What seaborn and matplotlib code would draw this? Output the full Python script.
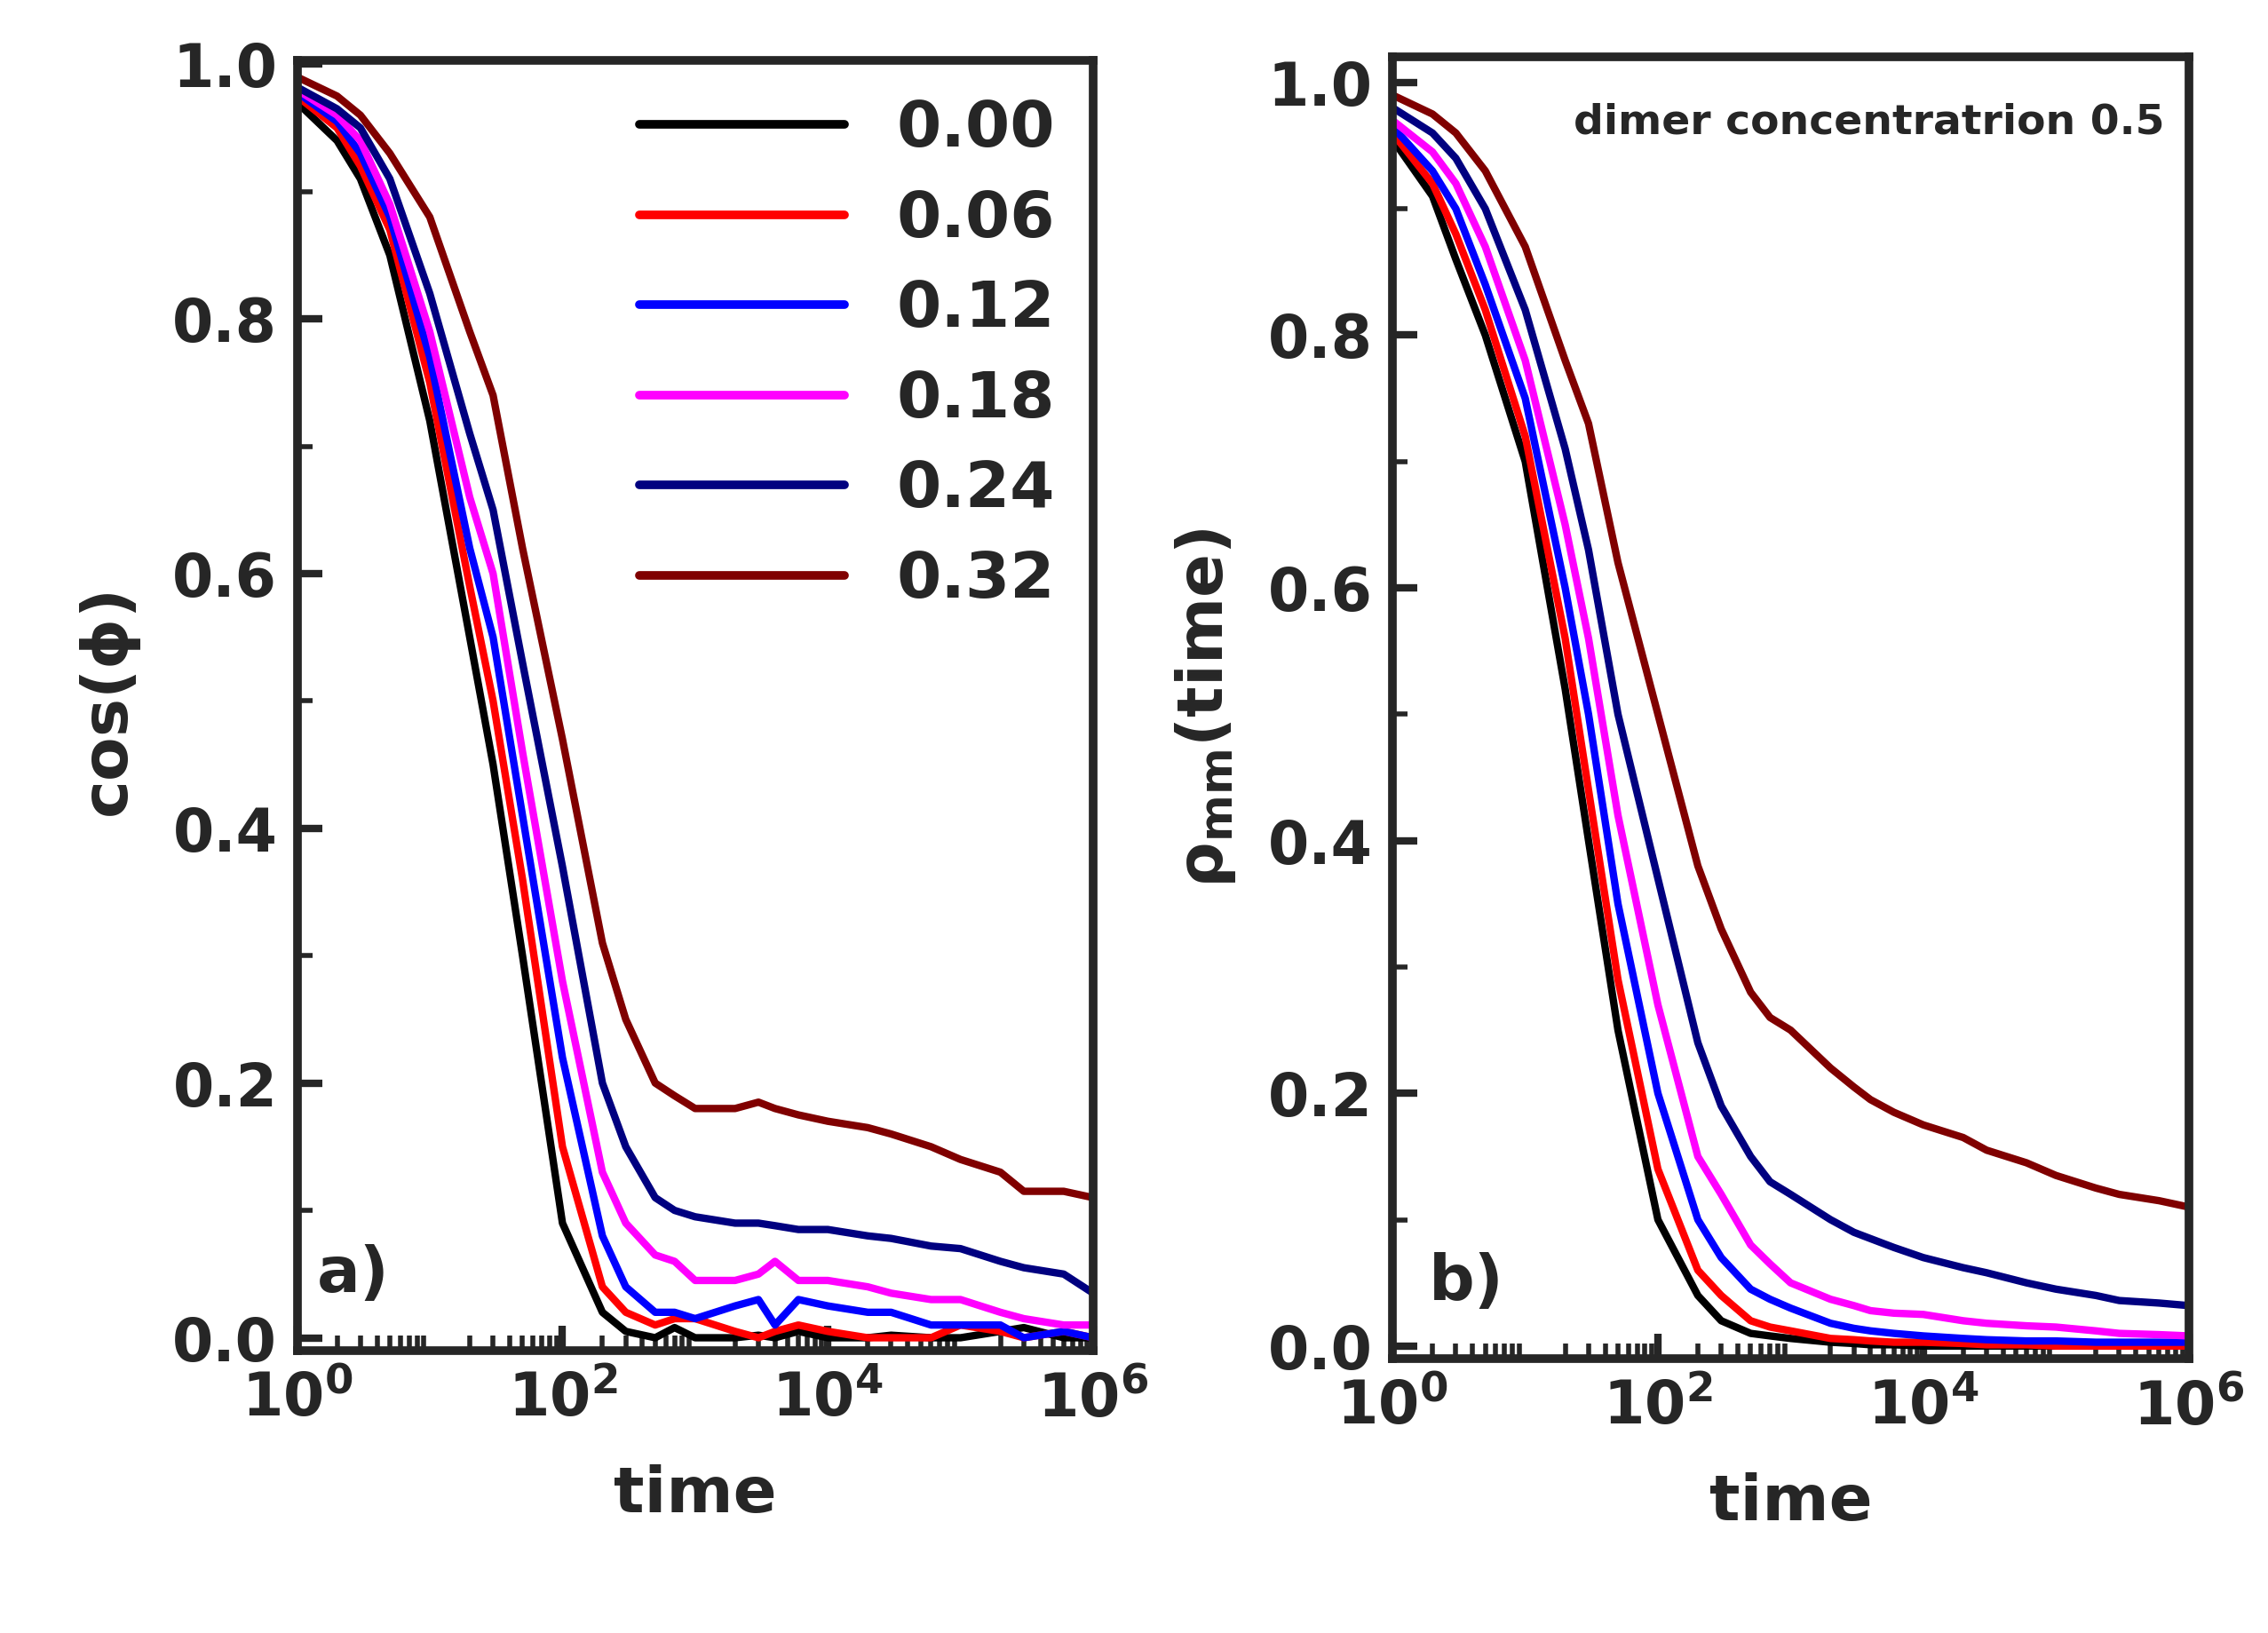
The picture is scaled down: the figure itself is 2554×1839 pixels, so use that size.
import numpy as np
import pandas as pd
import matplotlib
matplotlib.use("Agg")
import matplotlib.pyplot as plt
import seaborn as sns
from matplotlib.ticker import LogLocator, MultipleLocator, NullFormatter

sns.set_style("ticks")
plt.rcParams['font.family'] = ['DejaVu Sans']
plt.rcParams['font.weight'] = 'bold'

labels = ["0.00", "0.06", "0.12", "0.18", "0.24", "0.32"]
colors = ["#000000", "#ff0000", "#0000ff", "#ff00ff", "#000080", "#800000"]

time = [1, 2, 3, 5, 10, 20, 30, 50, 100, 200, 300, 500, 700, 1000, 2000, 3000, 4000,
        6000, 1e4, 2e4, 3e4, 6e4, 1e5, 2e5, 3e5, 6e5, 1e6]

cos_a = {
 "0.00": [0.97, 0.94, 0.91, 0.85, 0.72, 0.55, 0.45, 0.30, 0.09, 0.02, 0.005, 0.0, 0.008, 0.0, 0.0, 0.002, 0.0, 0.005, 0.0, 0.0, 0.002, 0.0, 0.0, 0.005, 0.008, 0.0, 0.0],
 "0.06": [0.975, 0.95, 0.92, 0.87, 0.75, 0.59, 0.50, 0.36, 0.15, 0.04, 0.02, 0.01, 0.015, 0.015, 0.005, 0.0, 0.005, 0.01, 0.005, 0.0, 0.0, 0.0, 0.01, 0.005, 0.0, 0.005, 0.0],
 "0.12": [0.978, 0.955, 0.93, 0.88, 0.77, 0.62, 0.55, 0.41, 0.22, 0.08, 0.04, 0.02, 0.02, 0.015, 0.025, 0.03, 0.01, 0.03, 0.025, 0.02, 0.02, 0.01, 0.01, 0.01, 0.0, 0.005, 0.0],
 "0.18": [0.98, 0.96, 0.94, 0.89, 0.79, 0.66, 0.60, 0.46, 0.28, 0.13, 0.09, 0.065, 0.06, 0.045, 0.045, 0.05, 0.06, 0.045, 0.045, 0.04, 0.035, 0.03, 0.03, 0.02, 0.015, 0.01, 0.01],
 "0.24": [0.982, 0.965, 0.95, 0.91, 0.82, 0.71, 0.65, 0.53, 0.37, 0.20, 0.15, 0.11, 0.10, 0.095, 0.09, 0.09, 0.088, 0.085, 0.085, 0.08, 0.078, 0.072, 0.07, 0.06, 0.055, 0.05, 0.035],
 "0.32": [0.99, 0.975, 0.96, 0.93, 0.88, 0.79, 0.74, 0.62, 0.47, 0.31, 0.25, 0.20, 0.19, 0.18, 0.18, 0.185, 0.18, 0.175, 0.17, 0.165, 0.16, 0.15, 0.14, 0.13, 0.115, 0.115, 0.11],
}
rho_b = {
 "0.00": [0.955, 0.91, 0.86, 0.80, 0.70, 0.52, 0.40, 0.25, 0.10, 0.04, 0.02, 0.01, 0.008, 0.006, 0.003, 0.002, 0.001, 0.001, 0.0, 0.0, 0.0, 0.0, 0.0, 0.0, 0.0, 0.0, 0.0],
 "0.06": [0.96, 0.92, 0.88, 0.82, 0.72, 0.56, 0.44, 0.29, 0.14, 0.06, 0.04, 0.02, 0.015, 0.012, 0.006, 0.005, 0.004, 0.003, 0.003, 0.002, 0.001, 0.001, 0.0, 0.0, 0.0, 0.0, 0.0],
 "0.12": [0.965, 0.93, 0.90, 0.84, 0.75, 0.60, 0.50, 0.35, 0.20, 0.10, 0.07, 0.045, 0.037, 0.03, 0.018, 0.014, 0.012, 0.01, 0.008, 0.006, 0.005, 0.004, 0.004, 0.003, 0.003, 0.003, 0.003],
 "0.18": [0.97, 0.945, 0.92, 0.87, 0.78, 0.65, 0.56, 0.42, 0.27, 0.15, 0.12, 0.08, 0.065, 0.05, 0.037, 0.032, 0.028, 0.026, 0.025, 0.02, 0.018, 0.016, 0.015, 0.012, 0.01, 0.009, 0.008],
 "0.24": [0.98, 0.96, 0.94, 0.90, 0.82, 0.71, 0.63, 0.50, 0.37, 0.24, 0.19, 0.15, 0.13, 0.12, 0.10, 0.09, 0.085, 0.078, 0.07, 0.062, 0.058, 0.05, 0.045, 0.04, 0.036, 0.034, 0.032],
 "0.32": [0.99, 0.975, 0.96, 0.93, 0.87, 0.78, 0.73, 0.62, 0.50, 0.38, 0.33, 0.28, 0.26, 0.25, 0.22, 0.205, 0.195, 0.185, 0.175, 0.165, 0.155, 0.145, 0.135, 0.125, 0.12, 0.115, 0.11],
}

def long(d):
    rows = []
    for k, v in d.items():
        for t, y in zip(time, v):
            rows.append((t, y, k))
    return pd.DataFrame(rows, columns=["time", "val", "conc"])

fig = plt.figure(figsize=(12.77, 9.195), dpi=200)
axA = fig.add_axes([0.131, 0.173, 0.351, 0.79])
axB = fig.add_axes([0.614, 0.168, 0.351, 0.797])
pal = dict(zip(labels, colors))

sns.lineplot(data=long(cos_a), x="time", y="val", hue="conc", palette=pal,
             hue_order=labels, lw=3, ax=axA, legend=True)
sns.lineplot(data=long(rho_b), x="time", y="val", hue="conc", palette=pal,
             hue_order=labels, lw=3, ax=axB, legend=False)

for ax, ylim in [(axA, (-0.01, 1.003)), (axB, (-0.01, 1.02))]:
    ax.set_xscale("log")
    ax.set_xlim(1, 1e6)
    ax.set_ylim(*ylim)
    ax.xaxis.set_major_locator(LogLocator(base=10, numticks=10))
    ax.set_xticks([1, 1e2, 1e4, 1e6])
    ax.xaxis.set_minor_locator(LogLocator(base=10, subs=np.arange(2, 10), numticks=20))
    ax.xaxis.set_minor_formatter(NullFormatter())
    ax.yaxis.set_major_locator(MultipleLocator(0.2))
    ax.yaxis.set_minor_locator(MultipleLocator(0.1))
    ax.set_yticklabels([f"{v:.1f}" for v in ax.get_yticks()])
    for s in ax.spines.values():
        s.set_linewidth(3.5)
    ax.tick_params(which="major", direction="in", length=10, width=3, labelsize=24, pad=8)
    ax.tick_params(which="minor", direction="in", length=6, width=2)
    for lab in ax.get_xticklabels() + ax.get_yticklabels():
        lab.set_fontweight("bold")
    ax.set_xlabel("time", fontsize=26, fontweight="bold", labelpad=14)

axA.set_yticks([0, 0.2, 0.4, 0.6, 0.8, 1.0])
axA.set_yticklabels(["0.0", "0.2", "0.4", "0.6", "0.8", "1.0"])
axB.set_yticks([0, 0.2, 0.4, 0.6, 0.8, 1.0])
axB.set_yticklabels(["0.0", "0.2", "0.4", "0.6", "0.8", "1.0"])
axA.set_ylabel(r"cos($\mathbf{\phi}$)", fontsize=26, fontweight="bold", labelpad=12)
axB.set_ylabel(r"$\mathbf{\rho_{mm}}$(time)", fontsize=26, fontweight="bold", labelpad=12)

leg = axA.legend(loc="upper right", frameon=False, fontsize=26, handlelength=3.2,
                 labelspacing=0.45, borderaxespad=0.2)
for t in leg.get_texts():
    t.set_fontweight("bold")
for l in leg.get_lines():
    l.set_linewidth(3.5)

axA.text(0.025, 0.045, "a)", transform=axA.transAxes, fontsize=26, fontweight="bold")
axB.text(0.045, 0.045, "b)", transform=axB.transAxes, fontsize=26, fontweight="bold")
axB.text(0.97, 0.965, "dimer concentratrion 0.5", transform=axB.transAxes,
         fontsize=17, fontweight="bold", ha="right", va="top")

fig.savefig("out.png", dpi=200)
